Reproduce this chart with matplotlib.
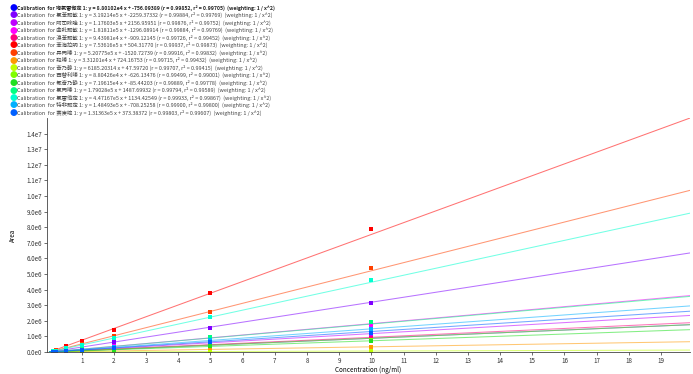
import matplotlib
matplotlib.use("Agg")
import matplotlib.pyplot as plt
from matplotlib.ticker import FuncFormatter
import numpy as np

plt.rcParams['font.family'] = ['Noto Sans CJK SC', 'DejaVu Sans']

# compounds, fit coefficients (from the legend) and colours
names = ["地氯雷他定", "氯苯那敏", "阿司咪唑", "曲吡那敏", "溴苯那敏", "苯海拉明", "异丙嗪", "羟嗪",
         "奋乃静", "西替利嗪", "氟奋乃静", "氯丙嗪", "氯雷他定", "特非那定", "赛庚啶"]
slopes = [8.80102e4, 3.19214e5, 1.17603e5, 1.81811e5, 9.43981e4, 7.53616e5, 5.20775e5, 3.31201e4,
          6185.20314, 8.80426e4, 7.19615e4, 1.79028e5, 4.47167e5, 1.48493e5, 1.31363e5]
slope_txt = ["8.80102e4", "3.19214e5", "1.17603e5", "1.81811e5", "9.43981e4", "7.53616e5", "5.20775e5",
             "3.31201e4", "6185.20314", "8.80426e4", "7.19615e4", "1.79028e5", "4.47167e5", "1.48493e5",
             "1.31363e5"]
intercepts = ["-756.09389", "-2259.37332", "2156.95951", "-1296.08914", "-909.12145", "504.31770",
              "-1520.72739", "724.16753", "47.59720", "-626.13476", "-85.44203", "1487.69932",
              "1134.42549", "-708.25258", "373.38372"]
r_vals = ["0.99852", "0.99884", "0.99876", "0.99884", "0.99726", "0.99937", "0.99916", "0.99715",
          "0.99707", "0.99499", "0.99889", "0.99794", "0.99933", "0.99900", "0.99803"]
r2_vals = ["0.99705", "0.99769", "0.99752", "0.99769", "0.99452", "0.99873", "0.99832", "0.99432",
           "0.99415", "0.99001", "0.99778", "0.99589", "0.99867", "0.99800", "0.99607"]
colors = ["#0000ff", "#7f00ff", "#bf00ff", "#ff00ff", "#ff0080", "#ff0000", "#ff4000", "#ff9900",
          "#c0ff00", "#80ff00", "#20e020", "#00ff80", "#00ffd0", "#00b0ff", "#0060ff"]

# calibration levels (ng/ml) and measured areas
conc = [0.1, 0.2, 0.5, 1, 2, 5, 10]
areas = [
    [8.5e3, 1.7e4, 4.3e4, 8.9e4, 1.8e5, 4.4e5, 8.6e5],
    [3.1e4, 6.2e4, 1.6e5, 3.2e5, 6.2e5, 1.55e6, 3.15e6],
    [1.4e4, 2.5e4, 6.0e4, 1.2e5, 2.4e5, 6.1e5, 1.1e6],
    [1.7e4, 3.5e4, 9.1e4, 1.8e5, 3.6e5, 9.0e5, 1.75e6],
    [9.0e3, 1.8e4, 4.6e4, 9.4e4, 1.9e5, 4.7e5, 8.9e5],
    [7.6e4, 1.5e5, 3.6e5, 7.1e5, 1.38e6, 3.8e6, 7.9e6],
    [5.1e4, 1.0e5, 2.6e5, 5.2e5, 1.0e6, 2.58e6, 5.4e6],
    [3.5e3, 7.0e3, 1.7e4, 3.4e4, 6.5e4, 1.6e5, 3.1e5],
    [650, 1250, 3100, 6200, 1.2e4, 3.1e4, 6.0e4],
    [8.4e3, 1.7e4, 4.3e4, 8.6e4, 1.7e5, 4.3e5, 7.6e5],
    [7.0e3, 1.45e4, 3.6e4, 7.2e4, 1.45e5, 3.6e5, 7.0e5],
    [1.9e4, 3.7e4, 9.0e4, 1.8e5, 3.5e5, 9.5e5, 1.9e6],
    [4.6e4, 9.0e4, 2.25e5, 4.5e5, 8.8e5, 2.25e6, 4.6e6],
    [1.5e4, 3.0e4, 7.4e4, 1.5e5, 2.9e5, 7.5e5, 1.45e6],
    [1.3e4, 2.6e4, 6.6e4, 1.3e5, 2.7e5, 6.6e5, 1.25e6],
]

fig = plt.figure(figsize=(6.93, 3.74), dpi=100)
ax = fig.add_axes([47 / 693, 1 - 352 / 374, (690 - 47) / 693, (352 - 118) / 374])

xfit = np.array([0, 20.0])
for i in range(len(names)):
    b = float(intercepts[i])
    ax.plot(xfit, slopes[i] * xfit + b, color=colors[i], lw=0.75, alpha=0.55)
for i in range(len(names)):
    ax.plot(conc, areas[i], "s", color=colors[i], ms=2.6, mew=0)

ax.set_xlim(-0.08, 19.9)
ax.set_ylim(0, 1.5e7)
ax.set_xticks(range(1, 20))
ax.set_yticks(np.arange(0, 1.45e7, 1e6))


def sci(v, pos):
    if v == 0:
        return "0.0e0"
    e = int(np.floor(np.log10(abs(v))))
    return f"{v / 10 ** e:.1f}e{e}"


ax.yaxis.set_major_formatter(FuncFormatter(sci))
ax.tick_params(labelsize=4.5, length=2, width=0.5, pad=1.5, colors="#333333")
for s in ["top", "right"]:
    ax.spines[s].set_visible(False)
for s in ["left", "bottom"]:
    ax.spines[s].set_linewidth(0.6)
    ax.spines[s].set_color("#444444")
ax.set_xlabel("Concentration (ng/ml)", fontsize=4.5, labelpad=1)
ax.set_ylabel("Area", fontsize=4.5, labelpad=7)

# legend list in the top left corner
y0 = 7.5
dy = 7.5
for i in range(len(names)):
    y = 1 - (y0 + i * dy) / 374
    fig.text(9 / 693, y, "●", color=colors[i], fontsize=6.5, va="center", ha="left",
             family=['DejaVu Sans'])
    txt = (f"Calibration  for {names[i]} 1: y = {slope_txt[i]} x + {intercepts[i]} "
           f"(r = {r_vals[i]}, r² = {r2_vals[i]})  (weighting: 1 / x^2)")
    fig.text(17 / 693, y, txt, fontsize=3.7 if i == 0 else 3.9, va="center", ha="left",
             color="#222222" if i == 0 else "#444444",
             weight="bold" if i == 0 else "normal")

fig.savefig("out.png", dpi=100)
